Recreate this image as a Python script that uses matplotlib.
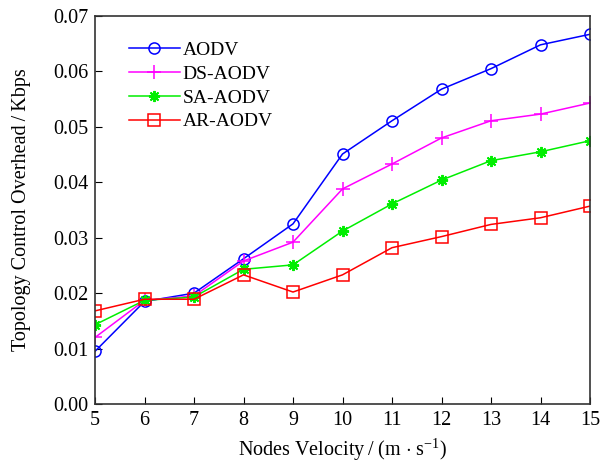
import matplotlib
matplotlib.use("Agg")
import matplotlib.pyplot as plt

plt.rcParams['font.family'] = ['Liberation Serif', 'DejaVu Serif']
plt.rcParams['mathtext.fontset'] = 'custom'
plt.rcParams['mathtext.rm'] = 'Liberation Serif'
plt.rcParams['mathtext.it'] = 'Liberation Serif:italic'

velocity = [5, 6, 7, 8, 9, 10, 11, 12, 13, 14, 15]
aodv = [0.0095, 0.0185, 0.0200, 0.0262, 0.0325, 0.0451, 0.0511, 0.0568, 0.0605, 0.0648, 0.0667]
ds_aodv = [0.0120, 0.0187, 0.0195, 0.0258, 0.0292, 0.0388, 0.0433, 0.0480, 0.0511, 0.0523, 0.0543]
sa_aodv = [0.0143, 0.0187, 0.0193, 0.0243, 0.0251, 0.0312, 0.0361, 0.0404, 0.0439, 0.0455, 0.0475]
ar_aodv = [0.0168, 0.0189, 0.0189, 0.0233, 0.0202, 0.0233, 0.0282, 0.0302, 0.0324, 0.0336, 0.0357]
yticks = [0.00, 0.01, 0.02, 0.03, 0.04, 0.05, 0.06, 0.07]

fig = plt.figure(figsize=(6.08, 4.66), dpi=100)
ax = fig.add_axes([95/608, 1-404/466, 495/608, 388/466])

ax.plot(velocity, aodv, color='#0000ff', marker='o', markersize=8, markerfacecolor='none', markeredgewidth=1.1, lw=1.1, label='AODV')
ax.plot(velocity, ds_aodv, color='#ff00ff', marker='+', markersize=10, markeredgewidth=1.1, lw=1.1, label='DS-AODV')
ax.plot(velocity, sa_aodv, color='#00ee00', marker=(8, 2, 0), markersize=8, markeredgewidth=1.4, lw=1.1, label='SA-AODV')
ax.plot(velocity, ar_aodv, color='#ff0000', marker='s', markersize=8.5, markerfacecolor='none', markeredgewidth=1.1, lw=1.1, label='AR-AODV')

ax.set_xlim(5, 15)
ax.set_ylim(0, 0.07)
ax.set_xticks(velocity)
ax.set_yticks(yticks)
ax.set_yticklabels([f'{v:.2f}' for v in yticks])
ax.tick_params(direction='in', labelsize=14.5, top=False, right=False, length=5, pad=5)
for s in ax.spines.values():
    s.set_color('#333333')
    s.set_linewidth(1.2)

ax.set_xlabel('Nodes Velocity\u2009/\u2009(m$\\,\\cdot\\,$s$^{-1}$)', fontsize=14.5, labelpad=5)
ax.set_ylabel('Topology Control Overhead\u2009/\u2009Kbps', fontsize=14.5, labelpad=16)

ax.legend(loc='upper left', bbox_to_anchor=(0.053, 0.955), frameon=False, fontsize=14,
          handlelength=2.6, labelspacing=0.32, handletextpad=0.15, borderaxespad=0)

fig.savefig('out.png', dpi=100)
